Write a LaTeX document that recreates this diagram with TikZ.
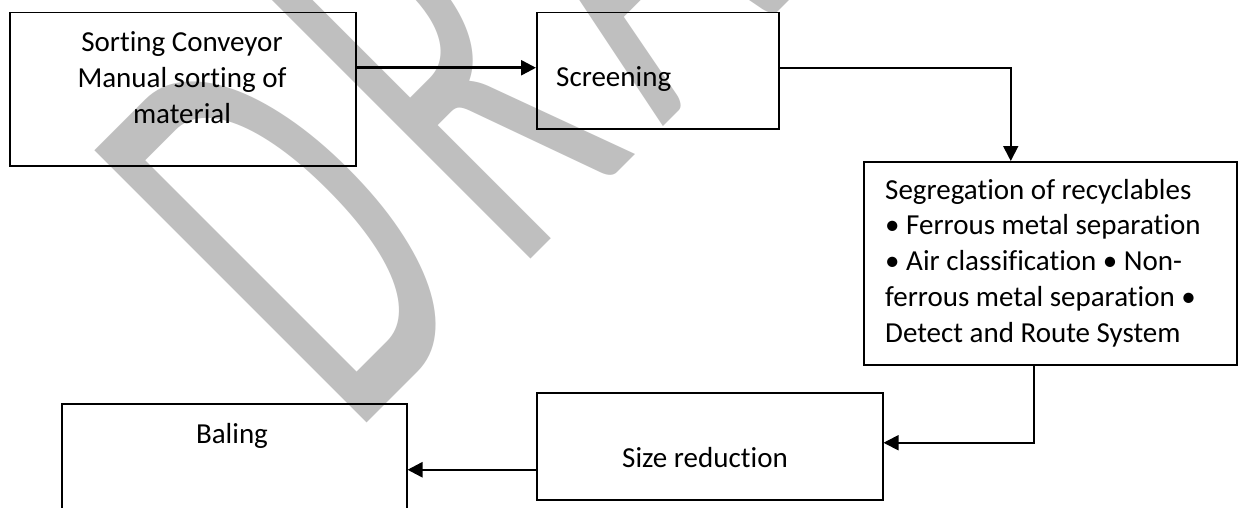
\documentclass[tikz,border=0pt]{standalone}
\usepackage{fontspec}
\setmainfont{Carlito}[Ligatures={NoCommon}]
\usetikzlibrary{arrows.meta}
\definecolor{wmgray}{RGB}{191,191,191}
\newcommand{\wmgap}{\kern60pt}
\begin{document}
\begin{tikzpicture}[x=1pt,y=1pt,
  box/.style={draw=black, line width=1.5pt, rectangle, inner sep=0pt, anchor=north west},
  txt/.style={inner sep=0pt, font=\fontsize{29}{35.75}\selectfont},
  arrthick/.style={line width=2.5pt, -{Triangle[length=15pt,width=15pt]}},
  arrthin/.style={line width=1.8pt, -{Triangle[length=15pt,width=15pt]}},
  watermark/.style={inner sep=0pt, text=wmgray, rotate=45, anchor=base west,
    font=\fontsize{600}{600}\selectfont}]
\clip (0,0) rectangle (1238,-508);
\fill[white] (0,0) rectangle (1238,-508);

% background watermark
\node[watermark] (wm) at (351,-439)
  {\scalebox{0.54}[1]{D\wmgap R\wmgap A\wmgap F\wmgap T}};

% process boxes
\node[box, minimum width=346pt, minimum height=153pt] (b1) at (9,-12) {};
\node[box, minimum width=242pt, minimum height=116pt] (b2) at (536,-12) {};
\node[box, minimum width=373pt, minimum height=203pt] (b3) at (863,-161) {};
\node[box, minimum width=346pt, minimum height=107pt] (b4) at (536,-392) {};
\node[box, minimum width=345pt, minimum height=132pt] (b5) at (61,-403) {};

% box texts (multi-line nodes are anchored at the last baseline)
\node[txt, align=center, anchor=base] (t1) at (182,-123)
  {Sorting Conveyor\\Manual sorting of\\material};
\node[txt, anchor=base west] (t2) at (556,-87) {Screening};
\node[txt, align=left, anchor=base west] (t3) at (885,-342)
  {Segregation of recyclables\\%
   \textbullet{} Ferrous metal separation\\%
   \textbullet{} Air classification \textbullet{} Non-\\%
   ferrous metal separation \textbullet\\%
   Detect and Route System};
\node[txt, anchor=base] (t4) at (705,-467) {Size reduction};
\node[txt, anchor=base] (t5) at (232,-443) {Baling};

% connectors
\coordinate (p1) at ([yshift=3pt]b2.west);
\draw[arrthick] (b1.east |- p1) -- (p1);
\coordinate (p2) at ([xshift=-39.5pt]b3.north);
\draw[arrthin] ([yshift=3pt]b2.east) -| (p2);
\coordinate (p3) at ([xshift=-16.5pt]b3.south);
\draw[arrthin] (p3) |- ([yshift=3.5pt]b4.east);
\draw[arrthick] (b4.west |- b5.east) -- (b5.east);
\end{tikzpicture}
\end{document}
